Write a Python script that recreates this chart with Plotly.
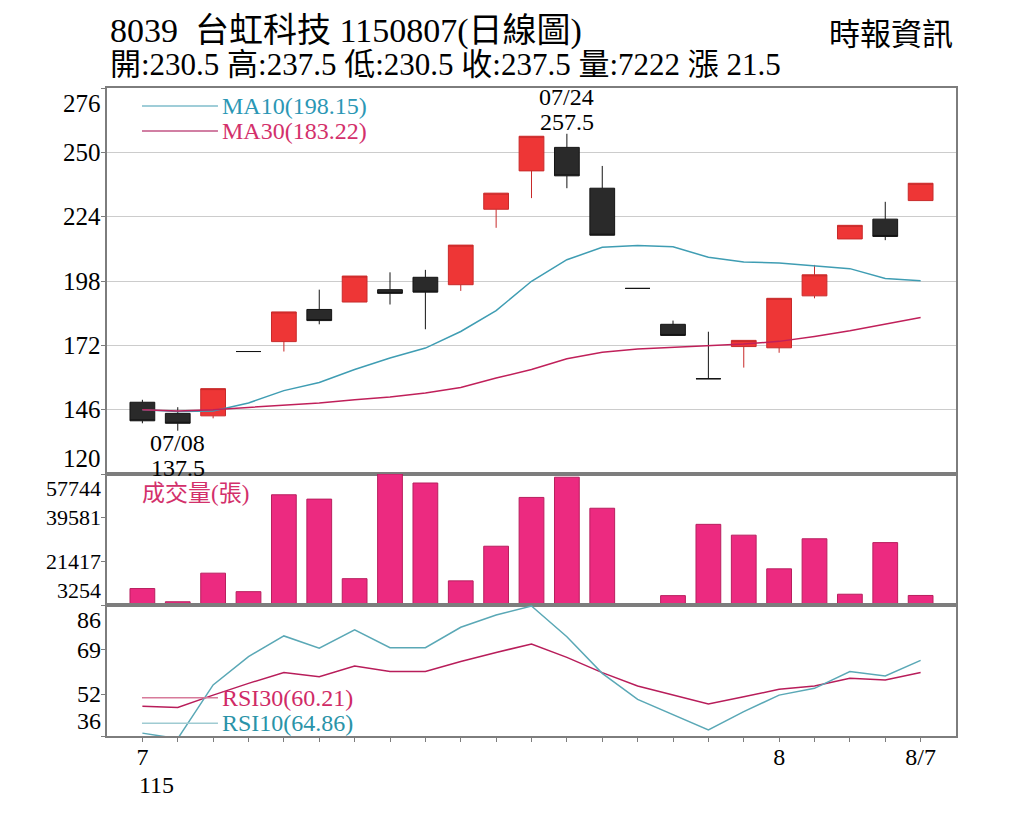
import plotly.graph_objects as go
from plotly.subplots import make_subplots

SERIF = "Liberation Serif, Noto Sans CJK TC, serif"
AX = "#7d7d7d"

# daily data, 115/07/07 - 115/08/07
year = "115"
dates = ["07/07", "07/08", "07/09", "07/10", "07/13", "07/14", "07/15", "07/16",
         "07/20", "07/21", "07/22", "07/23", "07/24", "07/27", "07/28", "07/29",
         "07/30", "07/31", "08/03", "08/04", "08/05", "08/06", "08/07"]
open_ = [149.0, 144.5, 143.5, 169.5, 173.5, 186.5, 189.5, 194.5, 199.5, 196.5, 227.0, 242.5,
         252.0, 235.5, 195.0, 180.5, 158.5, 171.5, 171.0, 192.0, 215.0, 223.0, 230.5]
high = [150.0, 147.0, 154.5, 169.5, 185.5, 194.5, 200.0, 201.5, 202.5, 212.5, 233.5, 256.5,
        257.5, 244.5, 195.0, 182.0, 177.5, 174.0, 191.0, 204.5, 220.5, 230.0, 237.5]
low = [140.5, 137.5, 142.5, 169.5, 169.5, 180.5, 189.5, 188.5, 178.5, 194.0, 219.5, 231.5,
       235.5, 216.5, 195.0, 176.0, 158.5, 163.0, 169.0, 191.0, 215.0, 214.5, 230.5]
close = [141.5, 140.5, 154.5, 169.5, 185.5, 182.0, 200.0, 193.0, 193.5, 212.5, 233.5, 256.5,
         240.5, 216.5, 195.0, 176.0, 158.5, 174.0, 191.0, 200.5, 220.5, 216.0, 237.5]
volume = [10100, 4600, 16500, 8800, 49100, 47300, 14200, 57744, 54000, 13300, 27700, 48000,
          56400, 43500, 3254, 7150, 36800, 32300, 18300, 30800, 7740, 29200, 7222]
ma10 = [146.0, 145.3, 145.5, 148.7, 153.7, 157.0, 162.2, 166.9, 170.9, 177.6, 186.0, 197.9,
        206.6, 211.6, 212.3, 211.8, 207.6, 205.7, 205.3, 204.3, 203.0, 199.0, 198.15]
ma30 = [146.0, 145.5, 146.0, 146.9, 147.6, 148.7, 150.0, 151.1, 152.7, 155.0, 158.8, 162.2,
        166.6, 169.2, 170.5, 171.2, 171.9, 172.5, 173.6, 175.6, 177.9, 180.6, 183.22]
rsi10 = [37.1, 35.0, 55.5, 66.3, 74.2, 69.5, 76.5, 69.7, 69.7, 77.5, 82.2, 85.6,
         73.9, 59.9, 50.0, 44.0, 38.3, 45.3, 51.6, 54.2, 60.6, 58.9, 64.86]
rsi30 = [47.4, 46.9, 51.6, 56.1, 60.2, 58.6, 62.7, 60.6, 60.6, 64.4, 67.9, 71.1,
         66.0, 60.2, 55.1, 51.6, 48.2, 51.0, 53.8, 55.1, 58.0, 57.4, 60.21]

price_ticks = [120, 146, 172, 198, 224, 250, 276]
vol_ticks = [3254, 21417, 39581, 57744]
rsi_ticks = [36, 52, 69, 86]
x_labels = {"07/07": "7", "08/03": "8", "08/07": "8/7"}

up = [c > o for o, c in zip(open_, close)]


def pick(values, flags):
    return [v if f else None for v, f in zip(values, flags)]


fig = make_subplots(rows=3, cols=1, shared_xaxes=True, vertical_spacing=0,
                    row_heights=[386, 131, 131])

# candles: red = up, black = down / flat
for flags, fill, edge in [(up, "#ee3636", "#c82a2a"),
                          ([not f for f in up], "#2a2a2a", "#141414")]:
    fig.add_trace(go.Candlestick(
        x=dates, open=pick(open_, flags), high=pick(high, flags),
        low=pick(low, flags), close=pick(close, flags),
        increasing=dict(fillcolor=fill, line=dict(color=edge, width=1)),
        decreasing=dict(fillcolor=fill, line=dict(color=edge, width=1)),
    ), row=1, col=1)

fig.add_trace(go.Scatter(x=dates, y=ma10, mode="lines",
                         line=dict(color="#3f9db3", width=1.5)), row=1, col=1)
fig.add_trace(go.Scatter(x=dates, y=ma30, mode="lines",
                         line=dict(color="#c0205a", width=1.5)), row=1, col=1)

fig.add_trace(go.Bar(x=dates, y=volume,
                     marker=dict(color="#ec2a80", line=dict(color="#b81f5e", width=1))),
              row=2, col=1)

fig.add_trace(go.Scatter(x=dates, y=rsi30, mode="lines",
                         line=dict(color="#b81d5a", width=1.5)), row=3, col=1)
fig.add_trace(go.Scatter(x=dates, y=rsi10, mode="lines",
                         line=dict(color="#5aa8b6", width=1.5)), row=3, col=1)

for r in [1, 2, 3]:
    fig.update_xaxes(type="category", range=[-1, len(dates)], showline=True, mirror=True,
                     linecolor=AX, linewidth=1.5, showgrid=False, zeroline=False,
                     rangeslider_visible=False, row=r, col=1)
fig.update_xaxes(ticks="", showticklabels=False, row=1, col=1)
fig.update_xaxes(ticks="", showticklabels=False, row=2, col=1)
fig.update_xaxes(tickmode="array", tickvals=dates,
                 ticktext=[x_labels.get(d, "") for d in dates],
                 ticks="outside", ticklen=4, tickcolor=AX, ticklabelstandoff=-6,
                 tickfont=dict(family=SERIF, size=24, color="black"), row=3, col=1)

for r, ticks, grid in [(1, price_ticks, True), (2, vol_ticks, False), (3, rsi_ticks, False)]:
    fig.update_yaxes(range=[min(ticks), max(ticks)], tickvals=ticks, showticklabels=False,
                     ticks="outside", ticklen=4, tickcolor=AX,
                     showgrid=grid, gridcolor="#cccccc", gridwidth=1, zeroline=False,
                     showline=True, mirror=True, linecolor=AX, linewidth=1.5,
                     row=r, col=1)

# y tick labels (edge labels kept inside their panel)
for yref, ticks, size in [("y", price_ticks, 25), ("y2", vol_ticks, 22), ("y3", rsi_ticks, 24)]:
    for v in ticks:
        anchor = "top" if v == max(ticks) else ("bottom" if v == min(ticks) else "middle")
        fig.add_annotation(x=0, xref="paper", xanchor="right", xshift=-4,
                           y=v, yref=yref, yanchor=anchor, text=str(v), showarrow=False,
                           font=dict(family=SERIF, size=size, color="black"))

# year under the first month label
fig.add_annotation(x=dates[0], xref="x3", y=0, yref="paper", xanchor="left", xshift=-4,
                   yanchor="top", yshift=-35, text=year, showarrow=False, borderpad=0,
                   font=dict(family=SERIF, size=24, color="black"))

# highest / lowest marks
hi = high.index(max(high))
lo = low.index(min(low))
for txt, shift in [(str(high[hi]), 0), (dates[hi], 25)]:
    fig.add_annotation(x=dates[hi], y=high[hi], xref="x", yref="y", yanchor="bottom",
                       yshift=shift - 2, text=txt, showarrow=False, borderpad=0,
                       font=dict(family=SERIF, size=24, color="black"))
for txt, shift in [(dates[lo], 0), (str(low[lo]), -25)]:
    fig.add_annotation(x=dates[lo], y=low[lo], xref="x", yref="y", yanchor="top",
                       yshift=shift + 2, text=txt, showarrow=False, borderpad=0,
                       font=dict(family=SERIF, size=24, color="black"))

# legends drawn as short segments + text
legend_items = [
    (0.9722, "#7fbccb", f"MA10({ma10[-1]:.2f})", "#2b97b5"),
    (0.9336, "#c25585", f"MA30({ma30[-1]:.2f})", "#d3306b"),
    (0.0591, "#d77a9a", f"RSI30({rsi30[-1]:.2f})", "#d02a66"),
    (0.0196, "#9fcbd2", f"RSI10({rsi10[-1]:.2f})", "#2a93a8"),
]
for yy, seg, txt, col in legend_items:
    fig.add_shape(type="line", xref="paper", yref="paper", x0=0.0412, x1=0.1307,
                  y0=yy, y1=yy, line=dict(color=seg, width=1.5))
    fig.add_annotation(x=0.1331, y=yy, xref="paper", yref="paper", xanchor="left",
                       yanchor="middle", text=txt, showarrow=False,
                       font=dict(family=SERIF, size=24, color=col))

fig.add_annotation(x=0.0389, y=0.375, xref="paper", yref="paper", xanchor="left",
                   yanchor="middle", text="成交量(張)", showarrow=False,
                   font=dict(family=SERIF, size=23, color="#d3306b"))

# header
chg = close[-1] - close[-2]
fig.add_annotation(x=0.001, y=1.088, xref="paper", yref="paper", xanchor="left",
                   yanchor="middle", text="8039\u00a0 台虹科技 1150807(日線圖)",
                   showarrow=False, font=dict(family=SERIF, size=34, color="black"))
fig.add_annotation(x=0.001, y=1.0355, xref="paper", yref="paper", xanchor="left",
                   yanchor="middle",
                   text=(f"開:{open_[-1]} 高:{high[-1]} 低:{low[-1]} 收:{close[-1]} "
                         f"量:{volume[-1]} 漲 {chg}"),
                   showarrow=False, font=dict(family=SERIF, size=31, color="black"))
fig.add_annotation(x=0.9988, y=1.0818, xref="paper", yref="paper", xanchor="right",
                   yanchor="middle", text="時報資訊", showarrow=False,
                   font=dict(family=SERIF, size=31, color="black"))

fig.update_layout(
    width=1024, height=819,
    margin=dict(l=107, r=68, t=88, b=83),
    plot_bgcolor="white", paper_bgcolor="white",
    showlegend=False,
    boxgap=0.3, boxgroupgap=0, bargap=0.3,
    font=dict(family=SERIF, color="black"),
    hovermode=False,
)

fig.write_html("out.html", config={"displayModeBar": False},
               post_script="document.body.style.margin='0';")
